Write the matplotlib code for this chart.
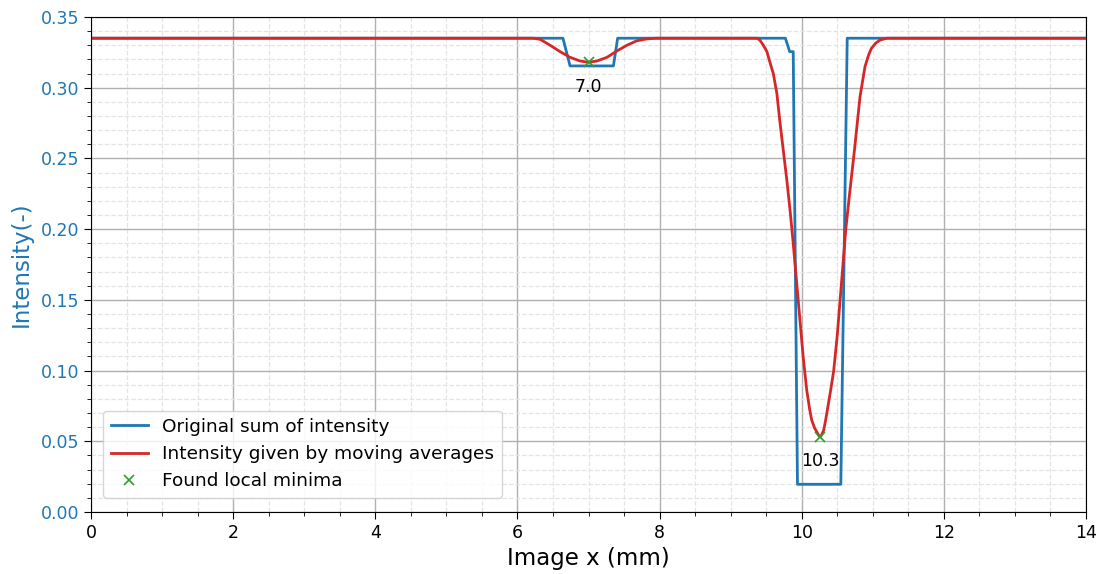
import matplotlib
matplotlib.use("Agg")
import matplotlib.pyplot as plt
from matplotlib.ticker import MultipleLocator

# Original summed intensity (step profile)
orig_x = [0.0, 6.64, 6.74, 7.35, 7.41, 9.77, 9.83, 9.88, 9.94, 10.55, 10.64, 14.0]
orig_y = [0.335, 0.335, 0.3154, 0.3154, 0.335, 0.335, 0.3255, 0.3255, 0.0196, 0.0196, 0.335, 0.335]

# Moving-average intensity
ma_x = [0.0, 6.22, 6.32, 6.46, 6.60, 6.74, 6.88, 7.00, 7.12, 7.26, 7.40, 7.54, 7.68, 7.82, 7.95,
        9.37, 9.41, 9.46, 9.51, 9.55, 9.60, 9.65, 9.69, 9.74, 9.79, 9.84, 9.88, 9.95, 10.02,
        10.07, 10.11, 10.14, 10.18, 10.21, 10.24, 10.26, 10.28, 10.31, 10.34, 10.37, 10.41,
        10.45, 10.50, 10.54, 10.58, 10.62, 10.68, 10.74, 10.82, 10.89, 10.94, 10.98, 11.04,
        11.10, 11.20, 14.0]
ma_y = [0.335, 0.335, 0.3342, 0.330, 0.3255, 0.3215, 0.3189, 0.318, 0.3189, 0.3215, 0.326,
        0.330, 0.3332, 0.3345, 0.335,
        0.335, 0.3337, 0.330, 0.3255, 0.3184, 0.310, 0.296, 0.2772, 0.256, 0.2348, 0.2112,
        0.190, 0.150, 0.1098, 0.0863, 0.0730, 0.065, 0.0595, 0.0568, 0.0540, 0.0532, 0.0545,
        0.058, 0.066, 0.075, 0.087, 0.100, 0.125, 0.150, 0.175, 0.200, 0.228, 0.255, 0.2936,
        0.3149, 0.3230, 0.3278, 0.3315, 0.3337, 0.335, 0.335]

# Found local minima
min_x = [7.0, 10.26]
min_y = [0.318, 0.053]
min_labels = ["7.0", "10.3"]

fig = plt.figure(figsize=(11.02, 5.74), dpi=100)
ax = fig.add_axes([0.0826, 0.108, 0.9029, 0.8624])

ax.plot(orig_x, orig_y, color="#1f77b4", lw=2, label="Original sum of intensity")
ax.plot(ma_x, ma_y, color="#d62728", lw=2, label="Intensity given by moving averages")
ax.plot(min_x, min_y, "x", color="#2ca02c", ms=7, mew=1.2, ls="none", label="Found local minima")
for xv, yv, t in zip(min_x, min_y, min_labels):
    ax.annotate(t, (xv, yv), xytext=(0, -11), textcoords="offset points",
                ha="center", va="top", fontsize=12.5)

ax.set_xlim(0, 14)
ax.set_ylim(0, 0.35)
ax.xaxis.set_major_locator(MultipleLocator(2))
ax.xaxis.set_minor_locator(MultipleLocator(0.5))
ax.yaxis.set_major_locator(MultipleLocator(0.05))
ax.yaxis.set_minor_locator(MultipleLocator(0.01))
ax.grid(which="major", color="#b0b0b0", lw=1)
ax.grid(which="minor", color="#e4e4e4", lw=0.9, ls="--")
ax.set_axisbelow(True)

ax.tick_params(axis="both", which="major", labelsize=12.5, length=5)
ax.tick_params(axis="both", which="minor", length=3)
ax.tick_params(axis="y", labelcolor="#1f77b4")
ax.set_xlabel("Image x (mm)", fontsize=16.5)
ax.set_ylabel("Intensity(-)", fontsize=16.5, color="#1f77b4", labelpad=6)
ax.legend(loc="lower left", fontsize=13.3, bbox_to_anchor=(0.003, 0.01))

fig.savefig("out.png", dpi=100)
